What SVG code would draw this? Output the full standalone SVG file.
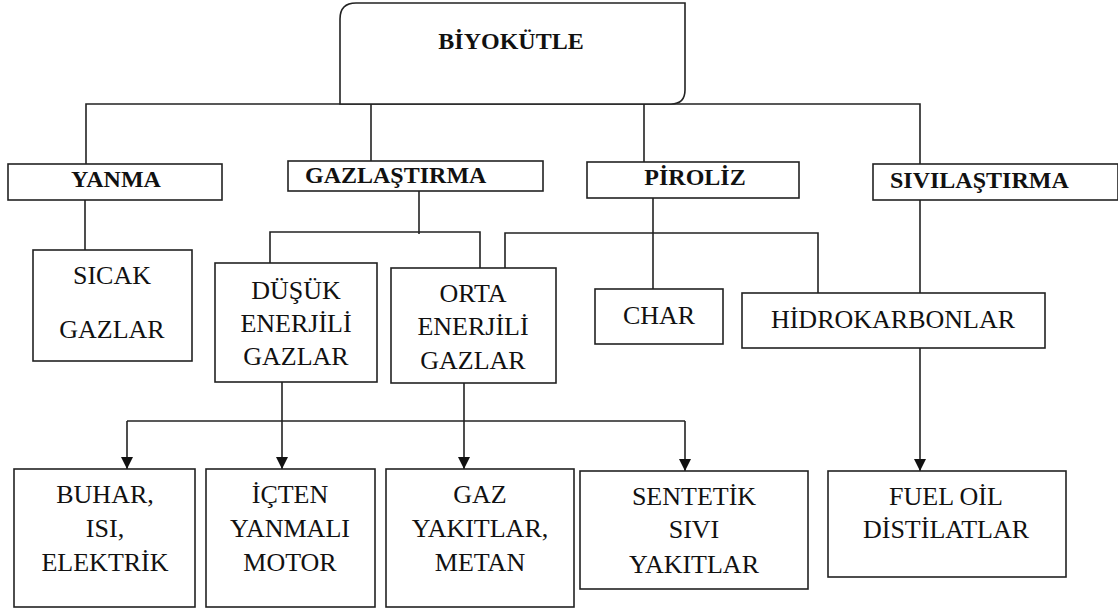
<svg xmlns="http://www.w3.org/2000/svg" width="1118" height="609" viewBox="0 0 1118 609">
<style>
.box{fill:#fff;stroke:#222;stroke-width:1.6}
.ln{fill:none;stroke:#222;stroke-width:1.6}
.b{font-family:"Liberation Serif","Times New Roman",serif;font-weight:bold;font-size:24px;fill:#111}
.t{font-family:"Liberation Serif","Times New Roman",serif;font-size:26px;fill:#111;text-anchor:middle}
</style>
<defs>
<marker id="arr" markerWidth="12" markerHeight="12" refX="12" refY="6" orient="auto" markerUnits="userSpaceOnUse">
<path d="M0,0 L12,6 L0,12 Z" fill="#111"/>
</marker>
</defs>
<rect width="1118" height="609" fill="#fff"/>
<g id="connectors">
<polyline class="ln" points="86,164 86,104 920,104 920,164"/>
<line class="ln" x1="371" y1="104" x2="371" y2="161"/>
<line class="ln" x1="644" y1="104" x2="644" y2="162"/>
<line class="ln" x1="85" y1="200" x2="85" y2="250"/>
<line class="ln" x1="419" y1="191" x2="419" y2="234"/>
<polyline class="ln" points="270,263 270,232 480,232 480,268"/>
<polyline class="ln" points="505,268 505,233 818,233 818,293"/>
<line class="ln" x1="653" y1="198" x2="653" y2="289"/>
<line class="ln" x1="920" y1="200" x2="920" y2="293"/>
<line class="ln" x1="920" y1="348" x2="920" y2="471" marker-end="url(#arr)"/>
<line class="ln" x1="282" y1="382" x2="282" y2="469" marker-end="url(#arr)"/>
<line class="ln" x1="464" y1="383" x2="464" y2="469" marker-end="url(#arr)"/>
<polyline class="ln" points="127,421 685,421"/>
<line class="ln" x1="127" y1="421" x2="127" y2="469" marker-end="url(#arr)"/>
<line class="ln" x1="685" y1="421" x2="685" y2="471" marker-end="url(#arr)"/>
</g>
<g id="biyokutle">
<path class="box" d="M340,104 L340,19 Q340,3 356,3 L685,3 L685,90 Q685,104 671,104 Z"/>
<text class="b" x="511" y="49" text-anchor="middle">BİYOKÜTLE</text>
</g>
<g id="yanma">
<rect class="box" x="8" y="164" width="214" height="36"/>
<text class="b" x="116" y="187" text-anchor="middle">YANMA</text>
</g>
<g id="gazlastirma">
<rect class="box" x="288" y="161" width="255" height="30"/>
<text class="b" x="305" y="183">GAZLAŞTIRMA</text>
</g>
<g id="piroliz">
<rect class="box" x="587" y="162" width="212" height="36"/>
<text class="b" x="695" y="185" text-anchor="middle">PİROLİZ</text>
</g>
<g id="sivilastirma">
<rect class="box" x="873" y="164" width="245" height="36"/>
<text class="b" x="890" y="188">SIVILAŞTIRMA</text>
</g>
<g id="sicak">
<rect class="box" x="33" y="250" width="159" height="111"/>
<text class="t" x="112" y="284">SICAK</text>
<text class="t" x="112" y="338">GAZLAR</text>
</g>
<g id="dusuk">
<rect class="box" x="215" y="263" width="162" height="119"/>
<text class="t" x="296" y="299">DÜŞÜK</text>
<text class="t" x="296" y="332">ENERJİLİ</text>
<text class="t" x="296" y="365">GAZLAR</text>
</g>
<g id="orta">
<rect class="box" x="391" y="268" width="165" height="115"/>
<text class="t" x="473" y="302">ORTA</text>
<text class="t" x="473" y="335">ENERJİLİ</text>
<text class="t" x="473" y="369">GAZLAR</text>
</g>
<g id="char">
<rect class="box" x="595" y="289" width="128" height="55"/>
<text class="t" x="659" y="324">CHAR</text>
</g>
<g id="hidrokarbonlar">
<rect class="box" x="742" y="293" width="303" height="55"/>
<text class="t" x="893" y="328">HİDROKARBONLAR</text>
</g>
<g id="buhar">
<rect class="box" x="14" y="469" width="181" height="138"/>
<text class="t" x="105" y="503">BUHAR,</text>
<text class="t" x="105" y="537">ISI,</text>
<text class="t" x="105" y="571">ELEKTRİK</text>
</g>
<g id="icten">
<rect class="box" x="206" y="469" width="169" height="138"/>
<text class="t" x="290" y="503">İÇTEN</text>
<text class="t" x="290" y="537">YANMALI</text>
<text class="t" x="290" y="571">MOTOR</text>
</g>
<g id="gaz">
<rect class="box" x="386" y="469" width="188" height="138"/>
<text class="t" x="480" y="503">GAZ</text>
<text class="t" x="480" y="537">YAKITLAR,</text>
<text class="t" x="480" y="571">METAN</text>
</g>
<g id="sentetik">
<rect class="box" x="580" y="471" width="228" height="118"/>
<text class="t" x="694" y="505">SENTETİK</text>
<text class="t" x="694" y="538">SIVI</text>
<text class="t" x="694" y="573">YAKITLAR</text>
</g>
<g id="fuel">
<rect class="box" x="828" y="471" width="238" height="106"/>
<text class="t" x="946" y="505">FUEL OİL</text>
<text class="t" x="946" y="538">DİSTİLATLAR</text>
</g>
</svg>
